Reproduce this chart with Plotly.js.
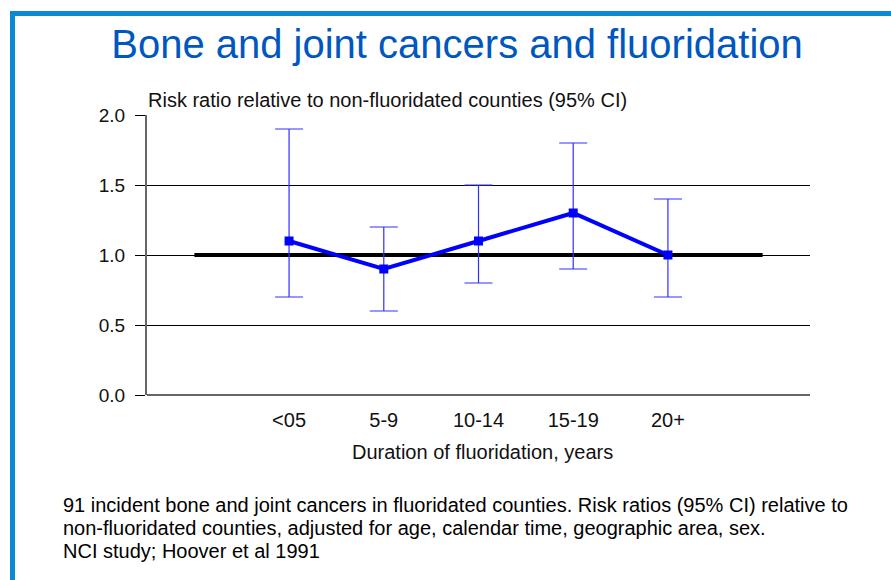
<!DOCTYPE html>
<html>
<head>
<meta charset="utf-8">
<script src="https://cdn.plot.ly/plotly-3.0.1.min.js"></script>
<style>html,body{margin:0;padding:0;background:#fff;}#chart{width:891px;height:580px;}</style>
</head>
<body>
<div id="chart"></div>
<script>
// Data
const categories = ['<05', '5-9', '10-14', '15-19', '20+'];
const riskRatio = [1.1, 0.9, 1.1, 1.3, 1.0];
const ciUpper = [1.9, 1.2, 1.5, 1.8, 1.4];
const ciLower = [0.7, 0.6, 0.8, 0.9, 0.7];
const referenceLevel = 1.0;
const yTicks = [0, 0.5, 1.0, 1.5, 2.0];
const yTickLabels = ['0.0', '0.5', '1.0', '1.5', '2.0'];
const footerLines = [
  '91 incident bone and joint cancers in fluoridated counties. Risk ratios (95% CI) relative to',
  'non-fluoridated counties, adjusted for age, calendar time, geographic area, sex.',
  'NCI study; Hoover et al 1991'
];

const W = 891, H = 580;
const M = {l: 147, r: 81, t: 115, b: 185};
const pw = W - M.l - M.r, ph = H - M.t - M.b;
const px = x => (x - M.l) / pw;
const py = y => (H - M.b - y) / ph;

const idx = categories.map((c, i) => i);
const font = 'Arial, "Liberation Sans", Helvetica, sans-serif';

const traces = [
  {
    x: [-1, categories.length], y: [referenceLevel, referenceLevel],
    mode: 'lines', line: {color: '#000', width: 4}, hoverinfo: 'skip', showlegend: false
  },
  {
    x: idx, y: riskRatio, mode: 'lines+markers',
    line: {color: '#0000ff', width: 4},
    marker: {symbol: 'square', size: 9, color: '#0000ff'},
    error_y: {
      type: 'data', symmetric: false,
      array: riskRatio.map((v, i) => ciUpper[i] - v),
      arrayminus: riskRatio.map((v, i) => v - ciLower[i]),
      color: '#3030ff', thickness: 1.2, width: 14
    },
    text: categories, showlegend: false
  }
];

const annotations = [
  {xref: 'paper', yref: 'paper', x: px(146), y: py(100), xanchor: 'left', yanchor: 'middle',
   text: 'Risk ratio relative to non-fluoridated counties (95% CI)', showarrow: false,
   font: {family: font, size: 20, color: '#111'}},
  {xref: 'paper', yref: 'paper', x: px(482), y: py(452), xanchor: 'center', yanchor: 'middle',
   text: 'Duration of fluoridation, years', showarrow: false,
   font: {family: font, size: 20, color: '#111'}}
];
footerLines.forEach((t, i) => {
  annotations.push({xref: 'paper', yref: 'paper', x: px(61), y: py(505 + 23 * i),
    xanchor: 'left', yanchor: 'middle', text: t, showarrow: false,
    font: {family: font, size: 20, color: '#000'}});
});

const layout = {
  width: W, height: H,
  margin: M,
  paper_bgcolor: '#fff', plot_bgcolor: '#fff',
  title: {text: 'Bone and joint cancers and fluoridation', xref: 'container', yref: 'container',
    x: 457 / W, y: 1 - 44 / H, xanchor: 'center', yanchor: 'middle',
    font: {family: font, size: 40, color: '#0057c0'}},
  xaxis: {
    range: [-1.5, categories.length + 0.5], tickvals: idx, ticktext: categories,
    showgrid: false, zeroline: false, showline: false, ticks: '',
    tickfont: {family: font, size: 20, color: '#111'}, ticklabelstandoff: 11, fixedrange: true
  },
  yaxis: {
    range: [0, 2], tickvals: yTicks, ticktext: yTickLabels,
    showgrid: true, gridcolor: '#000', gridwidth: 1, zeroline: false,
    showline: true, linecolor: '#666', linewidth: 2,
    ticks: 'outside', ticklen: 10, tickcolor: '#000', tickwidth: 1,
    tickfont: {family: font, size: 19, color: '#111'}, ticklabelstandoff: 6, fixedrange: true
  },
  shapes: [
    {type: 'line', xref: 'paper', yref: 'paper', x0: 0, x1: 1, y0: 0, y1: 0,
     line: {color: '#666', width: 2}},
    {type: 'line', xref: 'paper', yref: 'paper', x0: px(12.5), x1: px(W + 5), y0: py(13.5), y1: py(13.5),
     line: {color: '#0a8ad0', width: 5}},
    {type: 'line', xref: 'paper', yref: 'paper', x0: px(12.5), x1: px(12.5), y0: py(11), y1: py(H + 5),
     line: {color: '#0a8ad0', width: 5}}
  ],
  annotations: annotations,
  showlegend: false
};

Plotly.newPlot('chart', traces, layout, {displayModeBar: false, staticPlot: true});
</script>
</body>
</html>
